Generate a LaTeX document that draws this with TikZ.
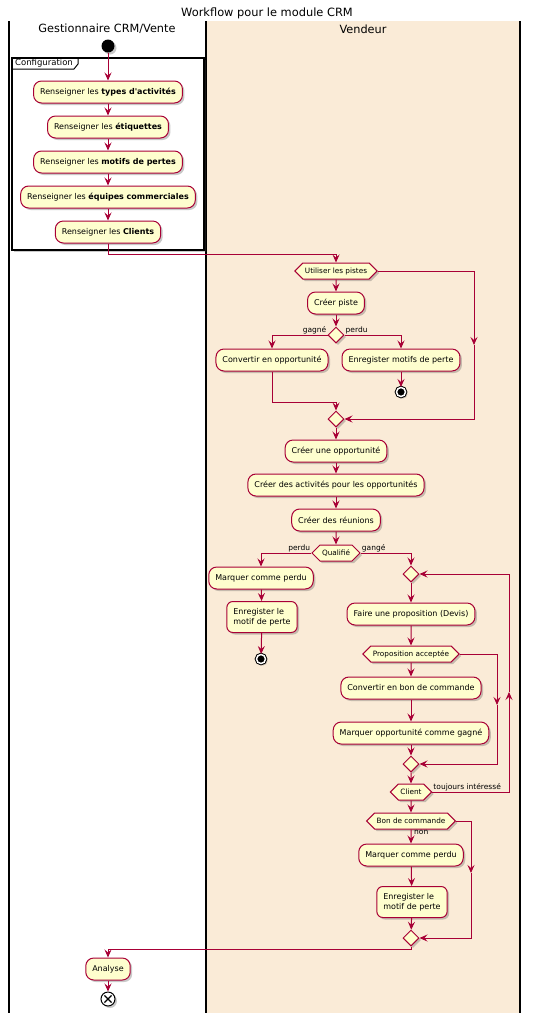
\documentclass[tikz,border=0pt]{standalone}
\usepackage{fontspec}
\setmainfont{DejaVu Sans}
\usetikzlibrary{arrows.meta,shapes.geometric,shapes.symbols,shadows}
\definecolor{bordeaux}{HTML}{A80036}
\definecolor{creme}{HTML}{FEFECE}
\definecolor{sable}{HTML}{FAEBD7}
\begin{document}
\begin{tikzpicture}[x=1pt, y=-1pt, font=\fontsize{8}{10}\selectfont,
    ombre/.style={drop shadow={shadow xshift=2pt, shadow yshift=-2pt, opacity=0.3, fill=black!70}},
    activite/.style={draw=bordeaux, fill=creme, line width=1pt, rounded corners=8pt, minimum height=22pt, inner xsep=6.5pt, ombre},
    choix/.style={signal, signal to=east and west, signal pointer angle=90, draw=bordeaux, fill=creme, line width=1pt, minimum height=16pt, inner xsep=2pt, inner ysep=1pt, font=\fontsize{7.3}{8}\selectfont, ombre},
    fusion/.style={diamond, draw=bordeaux, fill=creme, line width=1pt, minimum width=16pt, minimum height=16pt, inner sep=0pt, ombre},
    depart/.style={circle, fill=black, minimum size=13pt, inner sep=0pt, ombre},
    arret/.style={circle, draw=black, fill=black, line width=1pt, double=white, double distance=1.5pt, minimum size=9pt, inner sep=0pt, ombre},
    final/.style={circle, draw=black, fill=white, line width=1pt, minimum size=14pt, inner sep=0pt, ombre,
        path picture={\draw[line width=1.3pt] ([shift={(45:5pt)}]path picture bounding box.center) -- ([shift={(225:5pt)}]path picture bounding box.center)
            ([shift={(135:5pt)}]path picture bounding box.center) -- ([shift={(315:5pt)}]path picture bounding box.center);}},
    fleche/.style={draw=bordeaux, line width=1pt, -{Stealth[length=8pt, width=7pt, inset=3pt]}},
    garde/.style={font=\fontsize{7.5}{9}\selectfont, inner sep=1pt},
    entete/.style={font=\fontsize{11.3}{13}\selectfont},
    couloir/.style={draw=black, line width=1.3pt}]
    \useasboundingbox (0,0) rectangle (533,1013);

    % couloirs
    \fill[sable] (206,21) rectangle (520,1013);
    \draw[couloir] (9,21) -- (9,1013) (206,21) -- (206,1013) (520,21) -- (520,1013);
    \node[font=\fontsize{11.4}{13}\selectfont] (titre) at (267,13) {Workflow pour le module CRM};
    \node[entete] (gestionnaire) at (107,29) {Gestionnaire CRM/Vente};
    \node[entete] (vendeur) at (363,29) {Vendeur};

    % partition Configuration
    \draw[draw=black, line width=1.3pt, fill=white, ombre] (12,58) rectangle (204,250);
    \draw[line width=1pt] (12,69) -- (74,69) -- (78,64) -- (78,58);
    \node[font=\fontsize{8.5}{10}\selectfont, anchor=west, inner sep=1pt] (config) at (14,63.5) {Configuration};

    \node[depart] (debut) at (108,46) {};
    \node[activite] (types) at (108,92) {Renseigner les \textbf{types d\textquotesingle activités}};
    \node[activite] (etiquettes) at (108,127) {Renseigner les \textbf{étiquettes}};
    \node[activite] (motifs) at (108,162) {Renseigner les \textbf{motifs de pertes}};
    \node[activite] (equipes) at (108,197) {Renseigner les \textbf{équipes commerciales}};
    \node[activite] (clients) at (108,232) {Renseigner les \textbf{Clients}};

    % pistes
    \node[choix] (pistes) at (336,271) {Utiliser les pistes};
    \node[activite] (piste) at (336,303) {Créer piste};
    \node[fusion] (gagneperdu) at (336,335) {};
    \node[activite] (convopp) at (272,360) {Convertir en opportunité};
    \node[activite] (motifperte) at (401,360) {Enregister motifs de perte};
    \node[arret] (stopa) at (401,392) {};
    \node[fusion] (finpistes) at (336,419) {};
    \coordinate (sautpistes) at (474,345);

    % opportunite
    \node[activite] (creeropp) at (336,451) {Créer une opportunité};
    \node[activite] (activites) at (336,485) {Créer des activités pour les opportunités};
    \node[activite] (reunions) at (336,520) {Créer des réunions};
    \node[choix] (qualifie) at (336,553) {Qualifié};
    \node[activite] (perdua) at (261,578) {Marquer comme perdu};
    \node[activite, minimum height=31pt, rounded corners=6pt, align=left] (motifa) at (262,617) {Enregister le\\motif de perte};
    \node[arret] (stopb) at (261,659) {};

    % boucle devis
    \node[fusion] (boucle) at (411,574) {};
    \node[activite] (devis) at (411,614) {Faire une proposition (Devis)};
    \node[choix] (acceptee) at (411,654) {Proposition acceptée};
    \node[activite] (bon) at (411,688) {Convertir en bon de commande};
    \node[activite] (gagne) at (411,733) {Marquer opportunité comme gagné};
    \node[fusion] (finaccept) at (411,764) {};
    \node[choix] (client) at (411,792) {Client};
    \coordinate (sautaccept) at (497,705);
    \coordinate (retour) at (509,692);

    % bon de commande
    \node[choix] (commande) at (411,821) {Bon de commande};
    \node[activite] (perdub) at (411,855) {Marquer comme perdu};
    \node[activite, minimum height=31pt, rounded corners=6pt, align=left] (motifb) at (412,902) {Enregister le\\motif de perte};
    \node[fusion] (fincommande) at (411,938) {};
    \coordinate (sautcommande) at (471,873);

    \node[activite] (analyse) at (108,969) {Analyse};
    \node[final] (fin) at (108,999) {};

    % gardes
    \node[garde, anchor=south east] (lgagne) at (gagneperdu.west) {gagné};
    \node[garde, anchor=south west] (lperdu) at (gagneperdu.east) {perdu};
    \node[garde, anchor=south east] (lperdub) at (qualifie.west) {perdu};
    \node[garde, anchor=south west] (lgange) at (qualifie.east) {gangé};
    \node[garde, anchor=south west] (linteresse) at (client.east) {toujours intéressé};
    \node[garde, anchor=north west] (lnon) at ([xshift=2pt]commande.south) {non};

    % fleches
    \draw[fleche] (debut) -- (types);
    \draw[fleche] (types) -- (etiquettes);
    \draw[fleche] (etiquettes) -- (motifs);
    \draw[fleche] (motifs) -- (equipes);
    \draw[fleche] (equipes) -- (clients);
    \draw[fleche] (clients.south) -- ++(0,11) -| (pistes.north);
    \draw[fleche] (pistes) -- (piste);
    \draw[fleche] (piste) -- (gagneperdu);
    \draw[fleche] (gagneperdu.west) -| (convopp.north);
    \draw[fleche] (gagneperdu.east) -| (motifperte.north);
    \draw[fleche] (motifperte) -- (stopa);
    \draw[fleche] (convopp.south) -- ++(0,31) -| (finpistes.north);
    \draw[fleche] (pistes.east) -| (sautpistes);
    \draw[fleche] (sautpistes) |- (finpistes.east);
    \draw[fleche] (finpistes) -- (creeropp);
    \draw[fleche] (creeropp) -- (activites);
    \draw[fleche] (activites) -- (reunions);
    \draw[fleche] (reunions) -- (qualifie);
    \draw[fleche] (qualifie.west) -| (perdua.north);
    \draw[fleche] (perdua) -- (motifa);
    \draw[fleche] (motifa) -- (stopb);
    \draw[fleche] (qualifie.east) -| (boucle.north);
    \draw[fleche] (boucle) -- (devis);
    \draw[fleche] (devis) -- (acceptee);
    \draw[fleche] (acceptee) -- (bon);
    \draw[fleche] (bon) -- (gagne);
    \draw[fleche] (gagne) -- (finaccept);
    \draw[fleche] (acceptee.east) -| (sautaccept);
    \draw[fleche] (sautaccept) |- (finaccept.east);
    \draw[fleche] (finaccept) -- (client);
    \draw[fleche] (client.east) -| (retour);
    \draw[fleche] (retour) |- (boucle.east);
    \draw[fleche] (client) -- (commande);
    \draw[fleche] (commande) -- (perdub);
    \draw[fleche] (perdub) -- (motifb);
    \draw[fleche] (motifb) -- (fincommande);
    \draw[fleche] (commande.east) -| (sautcommande);
    \draw[fleche] (sautcommande) |- (fincommande.east);
    \draw[fleche] (fincommande.south) -- ++(0,3) -| (analyse.north);
    \draw[fleche] (analyse) -- (fin);
\end{tikzpicture}
\end{document}
